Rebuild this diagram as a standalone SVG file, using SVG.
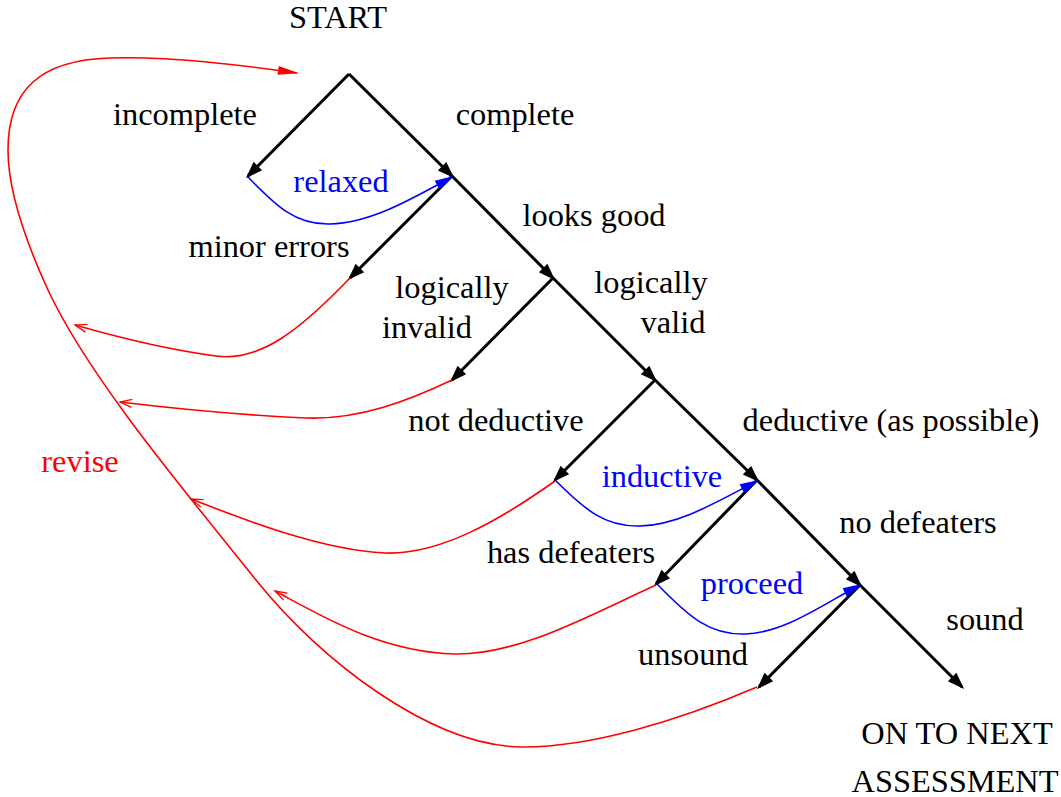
<svg xmlns="http://www.w3.org/2000/svg" width="1061" height="797" viewBox="0 0 1061 797">
<style>
text{font-size:32.4px;text-anchor:middle;fill:#000}
.b{fill:#0000ff}.r{fill:#ff0000}
.edge{stroke:#000;stroke-width:3;fill:none;marker-end:url(#ab)}
.ok{stroke:#0000ff;stroke-width:1.6;fill:none;marker-end:url(#ah)}
.bad{stroke:#ff0000;stroke-width:1.6;fill:none;marker-end:url(#ar)}
</style>
<defs>
<marker id="ab" markerUnits="userSpaceOnUse" markerWidth="20" markerHeight="14" refX="14" refY="6" orient="auto" overflow="visible"><path d="M0,0 L17,6 L0,12 z" fill="#000"/></marker>
<marker id="ah" markerUnits="userSpaceOnUse" markerWidth="22" markerHeight="12" refX="17" refY="5" orient="auto" overflow="visible"><path d="M0,0 L19,5 L0,10 z" fill="#0000ff"/></marker>
<marker id="ar" markerUnits="userSpaceOnUse" markerWidth="16" markerHeight="12" refX="12" refY="4" orient="auto" overflow="visible"><path d="M0,0 L12,4 L0,8" fill="none" stroke="#ff0000" stroke-width="1.3"/></marker>
<marker id="arf" markerUnits="userSpaceOnUse" markerWidth="24" markerHeight="12" refX="19" refY="4.5" orient="auto" overflow="visible"><path d="M0,0 L21,4.5 L0,9 z" fill="#ff0000"/></marker>
</defs>
<g id="connectors">
<path class="edge" d="M349,74 L248,176"/>
<path class="edge" d="M349,74 L452,176"/>
<path class="edge" d="M452,176 L350,278"/>
<path class="edge" d="M452,176 L553,278"/>
<path class="edge" d="M553,278 L452,380"/>
<path class="edge" d="M553,278 L655,380"/>
<path class="edge" d="M655,380 L555,480"/>
<path class="edge" d="M655,380 L757,480"/>
<path class="edge" d="M757,480 L656,584"/>
<path class="edge" d="M757,480 L860,585"/>
<path class="edge" d="M860,585 L759,687"/>
<path class="edge" d="M860,585 L962,687"/>
<path class="ok" d="M248,177 C275,205 295,225 330,224 C370,223 410,200 452,177"/>
<path class="ok" d="M555,480 C585,510 605,527 640,526 C680,525 720,500 757,481"/>
<path class="ok" d="M657,584 C690,618 710,635 745,634 C785,633 825,603 860,585"/>
<path class="bad" d="M350,278 C300,330 260,362 216,356 C170,350 110,335 75,325"/>
<path class="bad" d="M452,380 C410,400 360,420 306,418 C240,415 170,408 120,402"/>
<path class="bad" d="M555,481 C500,520 440,555 385,553 C320,550 240,518 191,499"/>
<path class="bad" d="M656,585 C590,615 520,655 455,654 C380,652 320,615 275,591"/>
<path d="M757,687 C680,720 590,748 520,747 C430,745 320,660 256,580 C190,497 90,380 48,290 C25,240 8,190 8,150 C8,90 40,60 110,58 C170,56 240,65 297,73" stroke="#ff0000" stroke-width="1.6" fill="none" marker-end="url(#arf)"/>
</g>
<g font-family="'Liberation Serif', 'Times New Roman', Times, 'DejaVu Serif', serif">
<g id="start"><text x="338" y="28">START</text></g>
<g id="incomplete"><text x="185" y="125">incomplete</text></g>
<g id="complete"><text x="515" y="125">complete</text></g>
<g id="relaxed"><text class="b" x="341" y="192">relaxed</text></g>
<g id="looks-good"><text x="594" y="226">looks good</text></g>
<g id="minor-errors"><text x="269" y="257">minor errors</text></g>
<g id="logically-invalid"><text x="452" y="298">logically</text><text x="427" y="338">invalid</text></g>
<g id="logically-valid"><text x="651" y="293">logically</text><text x="673" y="333">valid</text></g>
<g id="not-deductive"><text x="496" y="431">not deductive</text></g>
<g id="deductive"><text x="891" y="431">deductive (as possible)</text></g>
<g id="inductive"><text class="b" x="662" y="487">inductive</text></g>
<g id="revise"><text class="r" x="80" y="472">revise</text></g>
<g id="no-defeaters"><text x="918" y="533">no defeaters</text></g>
<g id="has-defeaters"><text x="571" y="563">has defeaters</text></g>
<g id="proceed"><text class="b" x="752" y="594">proceed</text></g>
<g id="sound"><text x="985" y="630">sound</text></g>
<g id="unsound"><text x="693" y="665">unsound</text></g>
<g id="next"><text x="957" y="744">ON TO NEXT</text><text x="955" y="792">ASSESSMENT</text></g>
</g>
</svg>
